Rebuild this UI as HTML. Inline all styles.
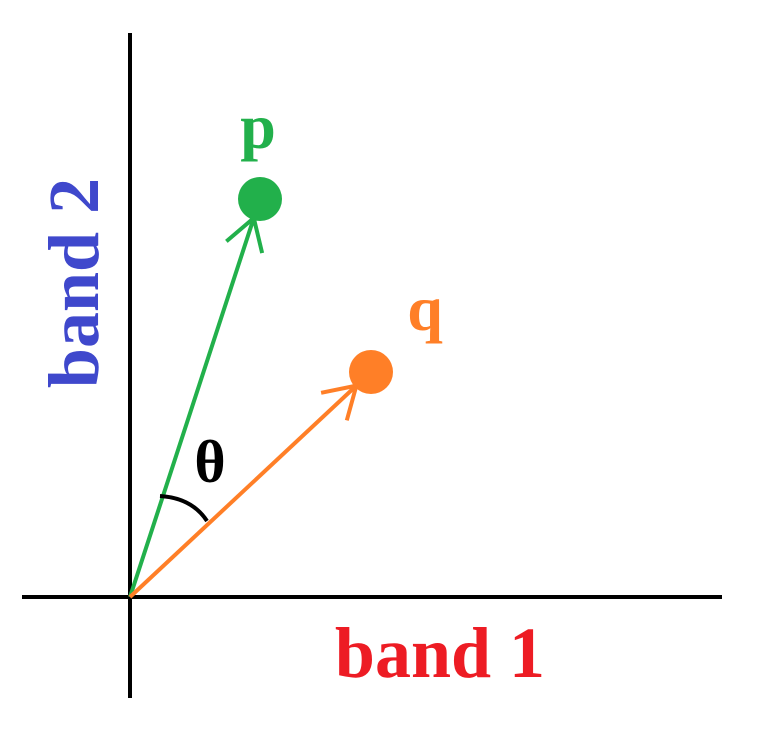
<!DOCTYPE html>
<html><head><meta charset="utf-8"><style>
html,body{margin:0;padding:0;background:#fff;}
svg{display:block}
</style></head><body>
<svg width="768" height="748" viewBox="0 0 768 748">
<g id="axes"></g>
<g id="marks"></g>
<text x="258" y="148" font-family="Liberation Serif, serif" font-weight="bold" font-size="64" fill="#22b04b" text-anchor="middle">p</text>
<text x="425" y="330" font-family="Liberation Serif, serif" font-weight="bold" font-size="64" fill="#ff7f27" text-anchor="middle">q</text>
<text x="440" y="677" font-family="Liberation Serif, serif" font-weight="bold" font-size="72" fill="#ed1c24" text-anchor="middle">band 1</text>
<text transform="translate(98,283) rotate(-90)" font-family="Liberation Serif, serif" font-weight="bold" font-size="72" fill="#3f48cc" text-anchor="middle">band 2</text>
<text x="210" y="482" font-family="Liberation Serif, serif" font-weight="bold" font-size="60" fill="#000" text-anchor="middle">θ</text>
<path d="M160,496 Q192,498 207,521" fill="none" stroke="#000" stroke-width="4"/>
</svg>
<script>
const vecNames = ['p','q'];
const vecX = [130, 241];
const vecY = [398, 225];
const vecColors = ['#22b04b','#ff7f27'];
const ox = 130, oy = 597;
const NS = 'http://www.w3.org/2000/svg';
function sx(v){return ox+v;}
function sy(v){return oy-v;}
function mk(tag, attrs, parent){const e=document.createElementNS(NS,tag);for(const k in attrs)e.setAttribute(k,attrs[k]);parent.appendChild(e);return e;}
const axes=document.getElementById('axes');
let xa=mk('line',{x1:22,y1:597,x2:722,y2:597,stroke:'#000','stroke-width':4},axes);


let ya=mk('line',{x1:130,y1:33,x2:130,y2:698,stroke:'#000','stroke-width':4},axes);


const marks=document.getElementById('marks');
vecNames.forEach((n,i)=>{
  const px=sx(vecX[i]), py=sy(vecY[i]);
  const dx=px-ox, dy=py-oy, L=Math.hypot(dx,dy), ux=dx/L, uy=dy/L;
  const tx=px-ux*20, ty=py-uy*20;
  const g=mk('g',{},marks);
  
  
  mk('line',{x1:ox,y1:oy,x2:tx,y2:ty,stroke:vecColors[i],'stroke-width':4},g);
  const a=0.55, h=36;
  const bx=-ux, by=-uy;
  const l1x=tx+h*(bx*Math.cos(a)-by*Math.sin(a)), l1y=ty+h*(bx*Math.sin(a)+by*Math.cos(a));
  const l2x=tx+h*(bx*Math.cos(-a)-by*Math.sin(-a)), l2y=ty+h*(bx*Math.sin(-a)+by*Math.cos(-a));
  mk('polyline',{points:`${l1x},${l1y} ${tx},${ty} ${l2x},${l2y}`,fill:'none',stroke:vecColors[i],'stroke-width':4},g);
  const c=mk('circle',{cx:px,cy:py,r:22,fill:vecColors[i]},g);
  
  
});
</script>
</body></html>
